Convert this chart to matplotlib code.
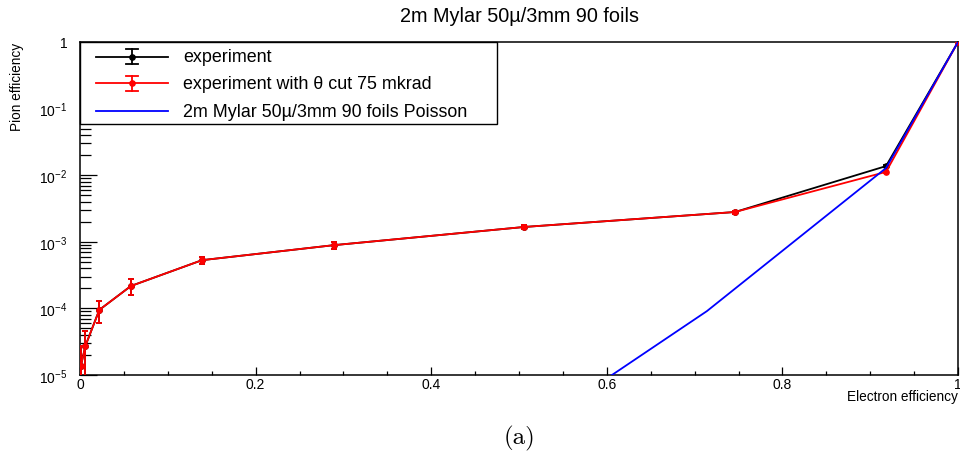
import matplotlib
matplotlib.use("Agg")
import matplotlib.pyplot as plt
import matplotlib.transforms as mtransforms
from matplotlib.ticker import MultipleLocator, LogLocator, NullFormatter, FixedLocator
import numpy as np

plt.rcParams['font.family'] = ['Liberation Sans', 'DejaVu Sans']
plt.rcParams['mathtext.fontset'] = 'custom'
plt.rcParams['mathtext.rm'] = 'Liberation Sans'
plt.rcParams['mathtext.it'] = 'Liberation Sans:italic'
plt.rcParams['mathtext.bf'] = 'Liberation Sans:bold'

# ---- data ----
title = "2m Mylar 50\u00b5/3mm 90 foils"
x_exp = [0.0, 0.001, 0.006, 0.022, 0.058, 0.139, 0.289, 0.506, 0.746, 0.918, 1.0]
y_exp = [4e-6, 1.36e-5, 2.7e-5, 9.5e-5, 2.17e-4, 5.3e-4, 8.9e-4, 1.67e-3, 2.8e-3, 1.37e-2, 1.0]
e_exp = [4e-6, 1.36e-5, 1.8e-5, 3.5e-5, 6e-5, 7e-5, 1e-4, 1.2e-4, 1.5e-4, 3e-4, 0.0]

x_cut = [0.0, 0.001, 0.006, 0.022, 0.058, 0.139, 0.289, 0.506, 0.746, 0.918, 1.0]
y_cut = [4e-6, 1.36e-5, 2.7e-5, 9.5e-5, 2.17e-4, 5.3e-4, 8.9e-4, 1.67e-3, 2.8e-3, 1.12e-2, 1.0]
e_cut = [4e-6, 1.36e-5, 1.8e-5, 3.5e-5, 6e-5, 7e-5, 1e-4, 1.2e-4, 1.5e-4, 3e-4, 0.0]

x_pois = [0.506, 0.714, 0.918, 1.0]
y_pois = [1.3e-6, 9.1e-5, 1.28e-2, 1.0]

x_ticks = [0, 0.2, 0.4, 0.6, 0.8, 1.0]
x_ticklabels = ["0", "0.2", "0.4", "0.6", "0.8", "1"]
y_ticks = [1e-5, 1e-4, 1e-3, 1e-2, 1e-1, 1.0]
y_ticklabels = [r"$10^{-5}$", r"$10^{-4}$", r"$10^{-3}$", r"$10^{-2}$", r"$10^{-1}$", "1"]

labels = ["experiment", "experiment with \u03b8 cut 75 mkrad",
          "2m Mylar 50\u00b5/3mm 90 foils Poisson"]
colors = ["black", "#ff0000", "#0000ff"]

# ---- figure ----
W, H = 960, 464
fig = plt.figure(figsize=(W / 100, H / 100), dpi=100)
ax = fig.add_axes([80 / W, 1 - 376 / H, 878 / W, 333 / H])
ax.set_yscale('log')
ax.set_xlim(0, 1)
ax.set_ylim(1e-5, 1)

lw = 1.3
ax.errorbar(x_exp, y_exp, yerr=e_exp, fmt='o-', color=colors[0], ms=3.8, lw=lw,
            elinewidth=lw, capsize=2.2, capthick=lw, zorder=3)
ax.errorbar(x_cut, y_cut, yerr=e_cut, fmt='o-', color=colors[1], ms=3.8, lw=lw,
            elinewidth=lw, capsize=2.2, capthick=lw, zorder=4)
ax.plot(x_pois, y_pois, '-', color=colors[2], lw=lw, zorder=5)

# ticks
ax.xaxis.set_major_locator(FixedLocator(x_ticks))
ax.set_xticklabels(x_ticklabels)
ax.xaxis.set_minor_locator(MultipleLocator(0.05))
ax.yaxis.set_major_locator(FixedLocator(y_ticks))
ax.set_yticklabels(y_ticklabels)
ax.yaxis.set_minor_locator(LogLocator(base=10, subs=np.arange(2, 10), numticks=20))
ax.yaxis.set_minor_formatter(NullFormatter())

ax.tick_params(axis='x', which='major', direction='in', length=5.8, width=0.9,
               labelsize=10, pad=1.5, top=False)
ax.tick_params(axis='x', which='minor', direction='in', length=2.9, width=0.9, top=False)
ax.tick_params(axis='y', which='major', direction='in', length=12.2, width=0.9,
               labelsize=10, pad=9, right=False)
ax.tick_params(axis='y', which='minor', direction='in', length=7.9, width=0.9, right=False)
for s in ax.spines.values():
    s.set_linewidth(1.1)

# title and axis labels
fig.text(519 / W, 1 - 17 / H, title, ha='center', va='center', fontsize=14.3)
fig.text(17 / W, 1 - 43 / H, "Pion efficiency", rotation=90, ha='center', va='top', fontsize=9.8)
fig.text(958 / W, 1 - 397 / H, "Electron efficiency", ha='right', va='center', fontsize=9.8)
fig.text(519 / W, 1 - 438 / H, "(a)", ha='center', va='center', fontsize=18, family='cmr10')

# ---- legend (pixel-placed box like ROOT TLegend) ----
pix = mtransforms.Affine2D().scale(1, -1).translate(0, H).scale(1 / W, 1 / H) + fig.transFigure
box = plt.Rectangle((80, 43), 417, 82, transform=pix, facecolor='white',
                    edgecolor='black', lw=1.0, zorder=10, clip_on=False)
ax.add_patch(box)
rows = [57.7, 84.3, 112.3]
for i, (lab, col) in enumerate(zip(labels, colors)):
    yy = rows[i]
    ax.plot([96, 168], [yy, yy], color=col, lw=lw, transform=pix, zorder=11, clip_on=False)
    if i < 2:
        ax.plot([132, 132], [yy - 7.6, yy + 7.6], color=col, lw=lw, transform=pix, zorder=11, clip_on=False)
        for yc in (yy - 7.6, yy + 7.6):
            ax.plot([125.7, 138.3], [yc, yc], color=col, lw=lw, transform=pix, zorder=11, clip_on=False)
        ax.plot([132], [yy], 'o', color=col, ms=3.8, transform=pix, zorder=12, clip_on=False)
    ax.text(183, yy, lab, transform=pix, ha='left', va='center', fontsize=12.9, zorder=12)

fig.savefig("out.png", dpi=100)
